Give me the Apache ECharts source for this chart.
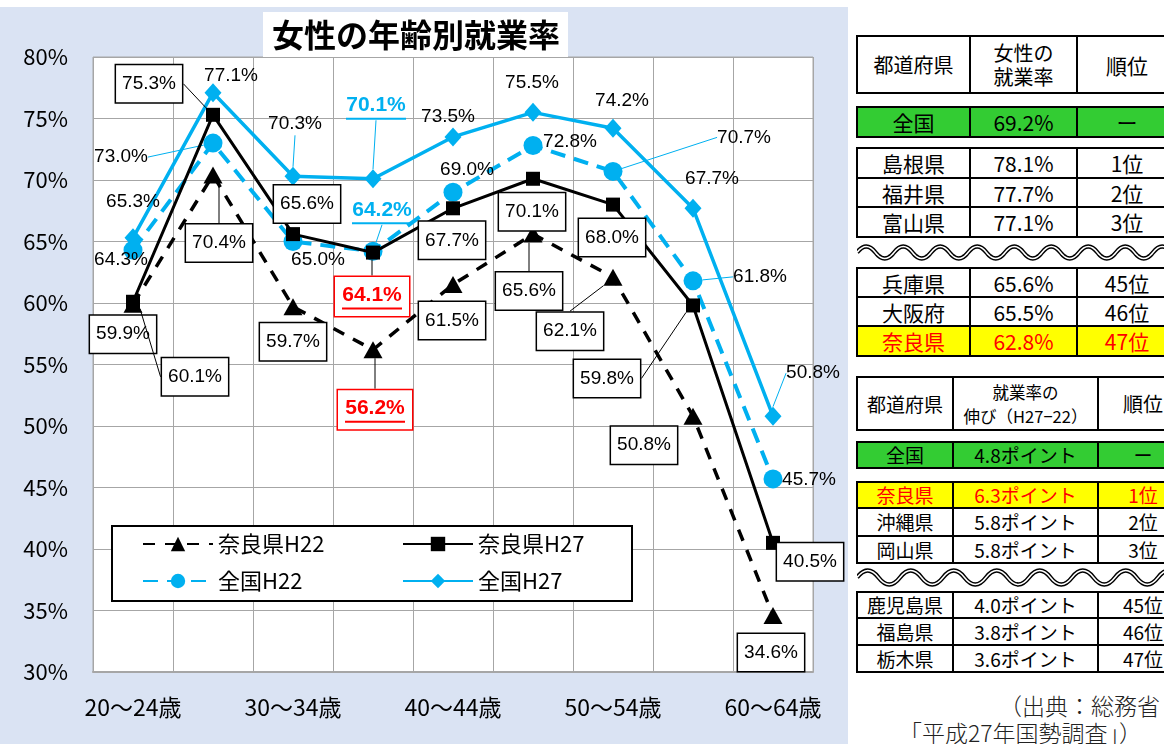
<!DOCTYPE html>
<html><head><meta charset="utf-8">
<script src="https://cdn.jsdelivr.net/npm/echarts@6.0.0/dist/echarts.min.js"></script>
<style>
html,body{margin:0;padding:0;width:1164px;height:744px;overflow:hidden;background:#fff;}
#chart{position:absolute;left:0;top:7px;width:848px;height:737px;}
.tbl{position:absolute;border-collapse:collapse;table-layout:fixed;font-family:'Noto Sans CJK JP',sans-serif;color:#000;}
.tbl td{border:2px solid #000;text-align:center;vertical-align:middle;padding:0;white-space:nowrap;overflow:hidden;background:#fff;}
.tbl td.gap{border-left:none;border-right:none;}
.tbl td.wave{border:none;}
.tbl tr.nat td{background:#33CC33;}
.tbl tr.hl td{background:#FFFF00;color:#FF0000;}
.src{position:absolute;font-family:'Noto Sans CJK JP',sans-serif;font-weight:300;font-size:23px;line-height:26px;color:#222;white-space:nowrap;}
</style>
</head><body>
<div id="chart"></div>
<div id="tables"></div>
<div id="src1" class="src" style="left:999px;top:692px"></div>
<div id="src2" class="src" style="left:899px;top:719px"></div>
<script>
// ---------- data ----------
const ageLabels = ['20〜24歳','25〜29歳','30〜34歳','35〜39歳','40〜44歳','45〜49歳','50〜54歳','55〜59歳','60〜64歳'];
const naraH22 = [59.9, 70.4, 59.7, 56.2, 61.5, 65.6, 62.1, 50.8, 34.6];
const naraH27 = [60.1, 75.3, 65.6, 64.1, 67.7, 70.1, 68.0, 59.8, 40.5];
const zenkokuH22 = [64.3, 73.0, 65.0, 64.2, 69.0, 72.8, 70.7, 61.8, 45.7];
const zenkokuH27 = [65.3, 77.1, 70.3, 70.1, 73.5, 75.5, 74.2, 67.7, 50.8];
const yMin = 30, yMax = 80, yStep = 5;
const seriesNames = ['奈良県H22', '奈良県H27', '全国H22', '全国H27'];
const titleText = '女性の年齢別就業率';

const tbl1Header = ['都道府県', '女性の\n就業率', '順位'];
const tbl1National = ['全国', '69.2%', 'ー'];
const tbl1Top = [['島根県', '78.1%', '1位'], ['福井県', '77.7%', '2位'], ['富山県', '77.1%', '3位']];
const tbl1Bottom = [['兵庫県', '65.6%', '45位'], ['大阪府', '65.5%', '46位'], ['奈良県', '62.8%', '47位']];

const tbl2Header = ['都道府県', '就業率の\n伸び（H27−22）', '順位'];
const tbl2National = ['全国', '4.8ポイント', 'ー'];
const tbl2Top = [['奈良県', '6.3ポイント', '1位'], ['沖縄県', '5.8ポイント', '2位'], ['岡山県', '5.8ポイント', '3位']];
const tbl2Bottom = [['鹿児島県', '4.0ポイント', '45位'], ['福島県', '3.8ポイント', '46位'], ['栃木県', '3.6ポイント', '47位']];
const highlightPref = '奈良県';
const sourceLines = ['（出典：総務省', '「平成27年国勢調査」）'];

// ---------- label placement (style) ----------
const offT = [[-10,30],[6,68],[0,35],[2,60],[-1,36],[-4,57],[-43,54],[-49,29],[-2,37]];
const offS = [[62,75],[-64,-31],[14,-30],[-1,44],[-1,32],[-1,33],[-1,33],[-86,73],[37,19]];
const offC = [[-12,10],[-92,14],[25,18],[9,-40],[14,-23],[37,-4],[131,-34],[67,-4],[36,1]];
const offD = [[0,-36],[18,-17],[2,-53],[3,-72],[-5,-20],[-1,-30],[9,-28],[19,-30],[40,-43]];
const leadT = [1,3,5,6], leadS = [0,1,3,7], leadC = [1,3,6,7], leadD = [2,3,8];
const hiIndex = 3;

const BLUE = '#00B0F0';
const LF = "'Liberation Sans',Arial,sans-serif";
const JF = "'Noto Sans CJK JP',sans-serif";
const fmt = p => (+p.value).toFixed(1) + '%';

function underlined(color, boxed) {
  const l = {
    formatter: p => '{t|' + fmt(p) + '}\n{u|\u00a0}',
    rich: {
      t: {color: color, fontWeight: 'bold', fontSize: 21, fontFamily: LF, lineHeight: 24, align: 'center'},
      u: {backgroundColor: color, width: 60, height: 2, lineHeight: 3, fontSize: 1, align: 'center'}
    }
  };
  if (boxed) { l.borderColor = '#FF0000'; l.padding = [6, 7, 6, 7]; }
  return l;
}
function mkData(values, leads, special) {
  return values.map((v, i) => {
    const d = {value: v};
    if (leads.includes(i)) d.labelLine = {show: true};
    if (i === hiIndex) d.label = special;
    return d;
  });
}
function layoutFor(offs) {
  return function (p) {
    const o = offs[p.dataIndex];
    return {
      x: p.rect.x + p.rect.width / 2 + o[0],
      y: p.rect.y + p.rect.height / 2 + o[1],
      align: 'center', verticalAlign: 'middle'
    };
  };
}
const boxLabel = {
  show: true, formatter: fmt, fontFamily: LF, fontSize: 19, color: '#000',
  backgroundColor: '#fff', borderColor: '#000', borderWidth: 1.5, padding: [6, 6, 5, 6], lineHeight: 26
};
const plainLabel = {show: true, formatter: fmt, fontFamily: LF, fontSize: 19, color: '#000', lineHeight: 24};

const chart = echarts.init(document.getElementById('chart'));
chart.setOption({
  animation: false,
  backgroundColor: '#DAE3F3',
  title: {
    text: titleText, left: 263, top: 5, backgroundColor: '#fff', padding: [3, 8, 3, 9],
    textStyle: {fontSize: 32, fontWeight: 'bold', fontFamily: JF, color: '#000', lineHeight: 39}, z: 8
  },
  grid: {left: 93, top: 50, width: 720, height: 615, show: true, backgroundColor: '#fff', borderColor: '#A6A6A6', borderWidth: 1},
  graphic: [{type: 'rect', left: 111, top: 518, shape: {width: 520, height: 75}, style: {fill: '#fff', stroke: '#000', lineWidth: 2}, z: 9}],
  legend: [
    {data: [seriesNames[0], seriesNames[2]], orient: 'vertical', left: 142, top: 524, padding: 0, itemGap: 11,
     itemWidth: 70, itemHeight: 18, selectedMode: false, z: 10,
     textStyle: {fontSize: 22, fontFamily: JF, color: '#000', lineHeight: 26}},
    {data: [seriesNames[1], seriesNames[3]], orient: 'vertical', left: 402, top: 524, padding: 0, itemGap: 11,
     itemWidth: 70, itemHeight: 18, selectedMode: false, z: 10,
     textStyle: {fontSize: 22, fontFamily: JF, color: '#000', lineHeight: 26}}
  ],
  xAxis: {
    type: 'category', data: ageLabels, boundaryGap: true,
    axisLabel: {interval: 1, fontSize: 23, margin: 24, color: '#000', fontFamily: JF},
    axisTick: {show: false},
    axisLine: {show: true, lineStyle: {color: '#A6A6A6', width: 2}},
    splitLine: {show: true, interval: 0, lineStyle: {color: '#A6A6A6', width: 1}}
  },
  yAxis: {
    type: 'value', min: yMin, max: yMax, interval: yStep,
    axisLabel: {formatter: v => v + '%', fontSize: 22, margin: 25, color: '#000', fontFamily: JF},
    axisLine: {show: false}, axisTick: {show: false},
    splitLine: {lineStyle: {color: '#A6A6A6', width: 1}}
  },
  series: [
    {name: seriesNames[2], type: 'line', z: 2, data: mkData(zenkokuH22, leadC, underlined(BLUE, false)),
     symbol: 'circle', symbolSize: 19, showAllSymbol: true,
     itemStyle: {color: BLUE}, lineStyle: {color: BLUE, width: 4, type: [15, 9]},
     label: plainLabel, labelLine: {show: false, lineStyle: {color: BLUE, width: 1}}, labelLayout: layoutFor(offC)},
    {name: seriesNames[3], type: 'line', z: 3, data: mkData(zenkokuH27, leadD, underlined(BLUE, false)),
     symbol: 'diamond', symbolSize: [17, 19], showAllSymbol: true,
     itemStyle: {color: BLUE}, lineStyle: {color: BLUE, width: 3.5},
     label: plainLabel, labelLine: {show: false, lineStyle: {color: BLUE, width: 1}}, labelLayout: layoutFor(offD)},
    {name: seriesNames[0], type: 'line', z: 4, data: mkData(naraH22, leadT, underlined('#FF0000', true)),
     symbol: 'triangle', symbolSize: [19, 17], showAllSymbol: true,
     itemStyle: {color: '#000'}, lineStyle: {color: '#000', width: 3.5, type: [12, 10]},
     label: boxLabel, labelLine: {show: false, lineStyle: {color: '#000', width: 1}}, labelLayout: layoutFor(offT)},
    {name: seriesNames[1], type: 'line', z: 5, data: mkData(naraH27, leadS, underlined('#FF0000', true)),
     symbol: 'rect', symbolSize: 14, showAllSymbol: true,
     itemStyle: {color: '#000'}, lineStyle: {color: '#000', width: 3},
     label: boxLabel, labelLine: {show: false, lineStyle: {color: '#000', width: 1}}, labelLayout: layoutFor(offS)}
  ]
});

// ---------- tables ----------
function wavePath(w, h, period, amp) {
  const mid = h / 2;
  let d = 'M0 ' + mid;
  let up = true;
  for (let x = 0; x < w; x += period / 2) {
    d += ' q' + (period / 4) + ' ' + (up ? -2 * amp : 2 * amp) + ' ' + (period / 2) + ' 0';
    up = !up;
  }
  return d;
}
function waveSvg(w, h, period, amp) {
  const d = wavePath(w, h, period, amp);
  return '<svg width="' + w + '" height="' + h + '" style="display:block">' +
    '<path d="' + d + '" fill="none" stroke="#000" stroke-width="4.5"/>' +
    '<path d="' + d + '" fill="none" stroke="#fff" stroke-width="1.5"/></svg>';
}
function esc(s) { return s.replace(/\n/g, '<br>'); }
function buildTable(cfg) {
  const W = cfg.cols.reduce((a, b) => a + b, 0);
  let h = '<table class="tbl" style="left:' + cfg.left + 'px;top:' + cfg.top + 'px;width:' + W + 'px">';
  h += '<colgroup>' + cfg.cols.map(c => '<col style="width:' + c + 'px">').join('') + '</colgroup>';
  const rh = cfg.rowH.slice();
  const rowHtml = (cells, cls, fs) => '<tr class="' + cls + '" style="height:' + rh.shift() + 'px">' +
    cells.map((c, i) => '<td style="font-size:' + (Array.isArray(fs) ? fs[i] : fs) + 'px;line-height:' + cfg.hdrLH + 'px">' + esc(c) + '</td>').join('') + '</tr>';
  const gap = () => '<tr style="height:' + rh.shift() + 'px"><td class="gap" colspan="3"></td></tr>';
  h += rowHtml(cfg.header, 'hdr', cfg.hdrFont);
  h += gap();
  h += rowHtml(cfg.national, 'nat', cfg.font);
  h += gap();
  cfg.topRows.forEach(r => h += rowHtml(r, r[0] === highlightPref ? 'hl' : '', cfg.font));
  const wh = rh.shift();
  h += '<tr style="height:' + wh + 'px"><td class="wave" colspan="3">' + waveSvg(W, wh, cfg.period, cfg.amp) + '</td></tr>';
  cfg.bottomRows.forEach(r => h += rowHtml(r, r[0] === highlightPref ? 'hl' : '', cfg.font));
  h += '</table>';
  return h;
}
document.getElementById('tables').innerHTML =
  buildTable({left: 856, top: 35, cols: [113, 107, 100], rowH: [57, 14, 30, 11, 30, 29, 30, 29, 29, 29, 30],
    header: tbl1Header, national: tbl1National, topRows: tbl1Top, bottomRows: tbl1Bottom,
    hdrFont: [20, 20, 21], font: 21, hdrLH: 24, period: 37, amp: 6}) +
  buildTable({left: 856, top: 376, cols: [96, 145, 90], rowH: [53, 12, 26, 14, 23, 28, 27, 27, 25, 27, 27],
    header: tbl2Header, national: tbl2National, topRows: tbl2Top, bottomRows: tbl2Bottom,
    hdrFont: [19, 16.5, 20], font: 19, hdrLH: 24, period: 43, amp: 7});
document.getElementById('src1').textContent = sourceLines[0];
document.getElementById('src2').textContent = sourceLines[1];
</script>
</body></html>
